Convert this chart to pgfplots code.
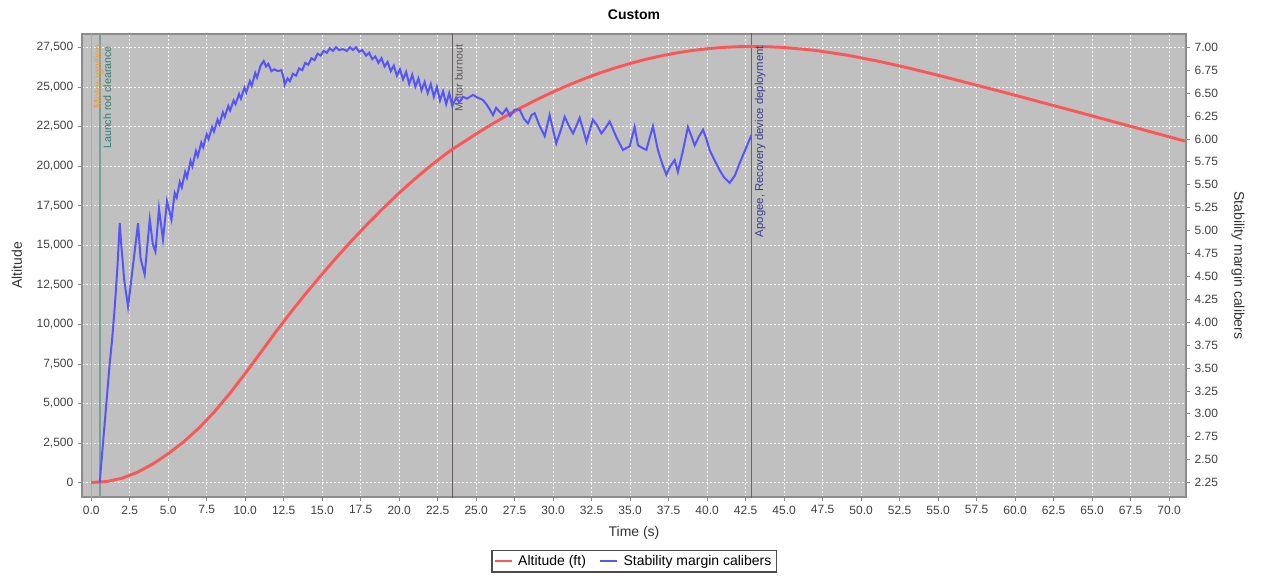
\documentclass[border=0pt]{standalone}
\usepackage{fontspec}
\setmainfont{Liberation Sans}
\usepackage{pgfplots}
\pgfplotsset{compat=1.18}
\definecolor{bg}{RGB}{192,192,192}
\definecolor{redline}{RGB}{250,88,88}
\definecolor{blueline}{RGB}{85,85,250}
\definecolor{ignition}{RGB}{232,160,70}
\definecolor{rodline}{RGB}{120,160,150}
\definecolor{rodtext}{RGB}{50,125,115}
\definecolor{burnout}{RGB}{95,85,85}
\definecolor{apogee}{RGB}{60,60,140}
\definecolor{apogeeline}{RGB}{95,95,165}
\definecolor{framegray}{RGB}{140,140,140}

\pgfplotsset{
  common/.style={
    at={(0pt,0pt)}, anchor=south west,
    scale only axis, width=828pt, height=347.25pt,
    xmin=-0.6, xmax=71.1,
    /pgf/number format/assume math mode=true,
    tick label style={font=\fontsize{9}{10}\selectfont, text=black!75},
    label style={font=\fontsize{10.5}{12}\selectfont, text=black!80},
    tick align=outside, major tick length=3pt,
    tick style={framegray, line width=0.5pt},
    axis line style={framegray, line width=0.8pt},
  }
}

\begin{document}
\begin{tikzpicture}
\useasboundingbox (-61.5pt,-58.5pt) rectangle (885pt,372.75pt);
\begin{axis}[
  common,
  ymin=-917, ymax=28350,
  axis background/.style={fill=bg},
  xtick={0,2.5,...,70}, ytick={0,2500,...,27500},
  xtick pos=bottom, ytick pos=left,
  xticklabel={\pgfmathprintnumber[fixed,fixed zerofill,precision=1]{\tick}},
  yticklabel style={/pgf/number format/.cd, 1000 sep={,}, fixed},
  scaled y ticks=false,
  grid=major,
  major grid style={white!95!gray, dash pattern=on 1.5pt off 1.5pt, line width=0.5pt},
  xlabel={Time (s)},
  xlabel style={at={(axis description cs:0.5,-0.078)}, anchor=center},
  ylabel={Altitude},
  ylabel style={at={(axis description cs:-0.0589,0.5)}, anchor=center, rotate=0},
  title={Custom},
  title style={font=\bfseries\fontsize{10.5}{12}\selectfont, at={(axis description cs:0.5,1)}, anchor=center, yshift=8.5pt},
]
% event lines
\addplot[ignition, line width=0.6pt, forget plot] coordinates {(0.03,-1000) (0.03,29000)};
\addplot[rodline, line width=1.2pt, forget plot] coordinates {(0.55,-1000) (0.55,29000)};
\addplot[burnout!80!gray, line width=0.7pt, forget plot] coordinates {(23.47,-1000) (23.47,29000)};
\addplot[apogeeline, line width=0.7pt, forget plot] coordinates {(42.87,-1000) (42.87,29000)};
% altitude
\addplot[redline, line width=2.2pt] coordinates {
(0,0) (1,60) (2,270) (3,645) (4,1170) (5,1820) (6,2570) (7,3445) (8,4470) (9,5630)
(10,6890) (11,8210) (12,9535) (13,10810) (14,12020) (15,13180) (16,14300) (17,15375)
(18,16400) (19,17375) (20,18300) (21,19172) (22,19990) (23,20745) (23.5,21095)
(24,21400) (25,22036) (26,22636) (27,23203) (28,23735) (29,24232) (30,24694)
(31,25122) (32,25516) (33,25875) (34,26199) (35,26488) (36,26743) (37,26964)
(38,27150) (39,27301) (40,27417) (41,27500) (42,27547) (42.87,27560)
(44,27543) (45,27496) (46,27406) (47,27316) (48,27171) (49,27026) (50,26839)
(51,26651) (52,26439) (53,26216) (54,25982) (55,25741) (57.5,25113) (60,24478)
(62.5,23827) (65,23172) (67.5,22514) (70,21853) (71.1,21562)
};
% event labels
\node[rotate=90, anchor=north east, inner sep=1.2pt, text=ignition, font=\fontsize{8}{10}\selectfont] at (axis cs:0.03,27810) {Motor ignition};
\node[rotate=90, anchor=north east, inner sep=2.5pt, text=rodtext, font=\fontsize{8}{10}\selectfont] at (axis cs:0.55,27810) {Launch rod clearance};
\node[rotate=90, anchor=north east, inner sep=1.5pt, text=burnout, font=\fontsize{8}{10}\selectfont] at (axis cs:23.47,27810) {Motor burnout};
\node[rotate=90, anchor=north east, inner sep=2.5pt, text=apogee, font=\fontsize{8.5}{10}\selectfont] at (axis cs:42.87,27810) {Apogee, Recovery device deployment};
\end{axis}

\begin{axis}[
  common,
  ymin=2.092, ymax=7.145,
  axis x line=none,
  axis y line*=right,
  ytick={2.25,2.5,...,7.01},
  yticklabel={\pgfmathprintnumber[fixed,fixed zerofill,precision=2]{\tick}},
  ylabel={Stability margin calibers},
  ylabel style={at={(axis description cs:1.047,0.5)}, anchor=center, rotate=180},
  legend style={at={(axis description cs:0.5,-0.1145)}, anchor=north,
    legend columns=2, draw=black!70, line width=0.8pt, fill=white,
    font=\fontsize{10.5}{12}\selectfont, inner sep=1.5pt,
    /tikz/every odd column/.append style={column sep=2pt},
    /tikz/every even column/.append style={column sep=8pt}},
  legend image code/.code={\draw[#1, line width=1.2pt] (0pt,0pt) -- (13pt,0pt);},
]
\addlegendimage{redline}
\addlegendentry{Altitude (ft)}
\addplot[blueline, line width=1.5pt] coordinates {
(0.55,2.25) (0.8,2.75) (1.0,3.15) (1.2,3.55) (1.35,3.8) (1.53,4.17) (1.7,4.6) (1.85,5.08)
(1.96,4.82) (2.15,4.45) (2.39,4.17) (2.7,4.6) (3.04,5.08) (3.2,4.7) (3.47,4.52)
(3.8,5.12) (4.0,4.85) (4.17,4.77) (4.40,5.24) (4.66,4.90) (4.92,5.32) (5.21,5.12)
(5.42,5.41) (5.55,5.36) (5.75,5.53) (5.88,5.47) (6.1,5.64) (6.22,5.58) (6.45,5.76)
(6.57,5.70) (6.8,5.87) (6.92,5.81) (7.15,5.96) (7.27,5.91) (7.5,6.05) (7.62,6.00)
(7.85,6.13) (7.97,6.08) (8.2,6.21) (8.32,6.16) (8.55,6.29) (8.67,6.24) (8.9,6.36)
(9.02,6.31) (9.25,6.42) (9.37,6.38) (9.6,6.49) (9.72,6.44) (9.95,6.56) (10.07,6.51)
(10.3,6.63) (10.42,6.58) (10.65,6.72) (10.77,6.67) (11.0,6.80) (11.20,6.85)
(11.35,6.79) (11.50,6.82) (11.70,6.74) (11.90,6.76) (12.10,6.74) (12.35,6.75)
(12.50,6.66) (12.56,6.59) (12.75,6.66) (12.90,6.63) (13.10,6.71) (13.30,6.69)
(13.50,6.77) (13.70,6.75) (13.90,6.83) (14.10,6.81) (14.30,6.88) (14.50,6.86)
(14.70,6.93) (14.90,6.91) (15.10,6.96) (15.30,6.94) (15.50,6.99) (15.70,6.96)
(15.90,7.00) (16.10,6.97) (16.35,6.98) (16.60,6.96) (16.80,7.00) (17.00,6.97)
(17.20,7.00) (17.40,6.95) (17.60,6.97) (17.85,6.91) (18.05,6.94) (18.25,6.87)
(18.45,6.90) (18.65,6.83) (18.85,6.88) (19.05,6.79) (19.25,6.84) (19.45,6.74)
(19.65,6.80) (19.85,6.69) (20.05,6.76) (20.25,6.65) (20.45,6.73) (20.65,6.60)
(20.85,6.70) (21.05,6.57) (21.25,6.66) (21.45,6.53) (21.65,6.62) (21.85,6.50)
(22.05,6.60) (22.25,6.46) (22.45,6.57) (22.65,6.42) (22.85,6.52) (23.05,6.38)
(23.25,6.50) (23.45,6.36) (23.70,6.45) (23.90,6.40) (24.14,6.46) (24.40,6.44)
(24.80,6.48) (25.10,6.45) (25.40,6.43) (25.66,6.38) (25.85,6.33) (26.09,6.26)
(26.30,6.34) (26.50,6.30) (26.70,6.27) (26.96,6.33) (27.20,6.25) (27.50,6.32)
(27.82,6.32) (28.10,6.22) (28.36,6.17) (28.60,6.26) (28.80,6.28) (29.10,6.15)
(29.45,6.03) (29.77,6.26) (30.20,5.95) (30.50,6.10) (30.75,6.24) (31.00,6.15)
(31.29,6.06) (31.50,6.14) (31.72,6.23) (31.95,6.10) (32.16,5.97) (32.58,6.21)
(32.85,6.15) (33.13,6.06) (33.40,6.12) (33.67,6.19) (34.10,6.02) (34.53,5.88)
(34.97,5.92) (35.29,6.13) (35.51,5.93) (35.80,5.90) (36.05,5.88) (36.48,6.14)
(36.80,5.88) (37.10,5.72) (37.35,5.61) (37.60,5.70) (37.89,5.77) (38.10,5.64)
(38.40,5.85) (38.75,6.13) (39.00,6.02) (39.19,5.93) (39.45,6.02) (39.73,6.10)
(39.95,6.00) (40.16,5.88) (40.50,5.76) (40.81,5.66) (41.10,5.58) (41.46,5.52)
(41.80,5.60) (42.10,5.73) (42.50,5.89) (42.87,6.04)
};
\addlegendentry{Stability margin calibers}
\end{axis}
\end{tikzpicture}
\end{document}
